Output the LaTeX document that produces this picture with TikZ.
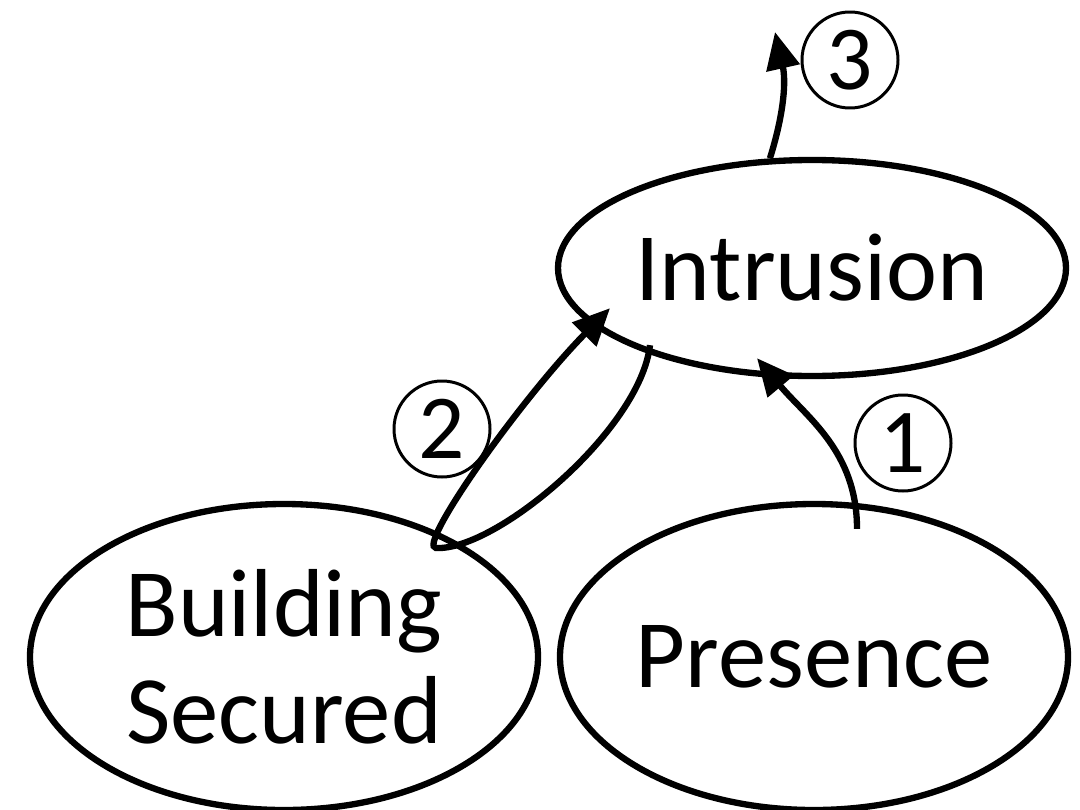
\documentclass[tikz,border=0pt]{standalone}
\usepackage{fontspec}
\setmainfont{Carlito}
\usepackage{tikz}
\usetikzlibrary{arrows.meta,calc,shapes.geometric}
\tikzset{
  smState/.style={
    ellipse, draw=black, line width=3.6pt, align=center, text=black,
    minimum width=10.16cm, minimum height=#1, inner sep=0pt,
    font=\fontsize{55}{61}\selectfont
  },
  smState/.default=6.12cm,
  smStep/.style={
    circle, draw=black, line width=1.7pt, minimum size=1.92cm, inner sep=0pt,
    font=\fontsize{52}{52}\selectfont
  },
  smArrow/.style={-{Triangle[length=7.4mm,width=6.6mm]}, draw=black, line width=3.6pt}
}

\begin{document}
\begin{tikzpicture}
  \useasboundingbox (0,0) rectangle (21.6,16.18);
  \node[smState=4.32cm] (intr) at (16.24,10.82) {Intrusion};
  \node[smState] (bsec) at (5.68,3.04) {Building\\Secured};
  \node[smState] (pres) at (16.28,3.04) {Presence};
  \coordinate (away) at (15.5,15.54);
  \coordinate (loop) at (8.72,5.22);
  \node[smStep] (one) at (18.06,7.32) {1};
  \node[smStep] (two) at (8.84,7.6) {2};
  \node[smStep] (three) at (17.0,14.98) {3};

  \draw[smArrow] ([xshift=0.86cm,yshift=-0.56cm]pres.north) to[out=90,in=-50] ([xshift=-1.1cm,yshift=0.42cm]intr.south);
  \draw[smArrow] ([xshift=-3.24cm,yshift=0.68cm]intr.south) .. controls (12.8,7.58) and (9.92,5.16) .. (loop) .. controls (8.32,5.24) and (10.4,8.18) .. ([xshift=-4.04cm,yshift=1.42cm]intr.south);
  \draw[smArrow] (intr.111) to[bend right=15] (away);
\end{tikzpicture}
\end{document}
